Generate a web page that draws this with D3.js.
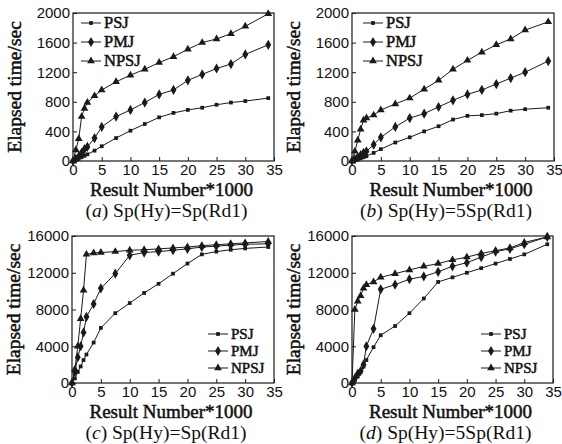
<!DOCTYPE html>
<html>
<head>
<meta charset="utf-8">
<script src="https://cdn.jsdelivr.net/npm/d3@7"></script>
<style>
    body { margin: 0; background: #fff; }
    svg { display: block; }
    .tick text { font-family: "Liberation Sans", Arial, sans-serif; font-size: 15px; fill: #111; }
    .serif { font-family: "Liberation Serif", "Times New Roman", serif; fill: #111; }
    .heavy { stroke: #111; stroke-width: 0.5px; }
</style>
</head>
<body>
<div id="chart"></div>
<script>
// result numbers (*1000) shared by every curve
const xValues = [0, 0.5, 1, 1.5, 2, 2.5, 3.75, 5, 7.5, 10, 12.5, 15, 17.5, 20, 22.5, 25, 27.5, 30, 34];
const seriesNames = ["PSJ", "PMJ", "NPSJ"];
const xTicks = [0, 5, 10, 15, 20, 25, 30, 35];
const yTicksSmall = [0, 400, 800, 1200, 1600, 2000];
const yTicksLarge = [0, 4000, 8000, 12000, 16000];
const captionLetters = ["a", "b", "c", "d"];
const captionTexts = [" Sp(Hy)=Sp(Rd1)", " Sp(Hy)=5Sp(Rd1)", " Sp(Hy)=Sp(Rd1)", " Sp(Hy)=5Sp(Rd1)"];

// (a)
const psjA = [0, 15, 30, 50, 70, 90, 140, 200, 310, 410, 500, 590, 650, 690, 720, 760, 790, 810, 850];
const pmjA = [0, 30, 60, 110, 160, 190, 310, 460, 600, 690, 790, 900, 960, 1090, 1170, 1250, 1310, 1440, 1570];
const npsjA = [0, 150, 300, 600, 710, 790, 880, 960, 1070, 1160, 1240, 1330, 1410, 1510, 1600, 1650, 1720, 1820, 1990];
// (b)
const psjB = [0, 10, 20, 35, 50, 65, 110, 160, 250, 320, 400, 470, 560, 610, 620, 640, 680, 700, 720];
const pmjB = [0, 25, 50, 80, 110, 130, 220, 320, 460, 580, 640, 730, 820, 900, 960, 1040, 1120, 1200, 1350];
const npsjB = [0, 130, 280, 430, 550, 580, 620, 690, 770, 850, 970, 1090, 1240, 1360, 1470, 1570, 1650, 1770, 1880];
// (c)
const psjC = [0, 500, 1200, 1800, 2500, 3100, 4400, 6000, 7600, 8700, 9800, 10800, 11900, 13000, 14000, 14300, 14500, 14650, 14800];
const pmjC = [0, 1200, 2800, 4000, 5500, 7200, 8600, 10300, 11900, 13900, 14200, 14300, 14450, 14600, 14800, 14900, 15000, 15100, 15150];
const npsjC = [0, 1500, 4000, 7000, 10100, 14000, 14150, 14200, 14300, 14450, 14500, 14600, 14700, 14800, 14950, 15050, 15150, 15250, 15400];
// (d)
const psjD = [0, 300, 700, 1200, 1800, 2500, 3900, 5200, 6200, 7600, 9200, 11000, 11500, 12000, 12500, 13000, 13500, 14000, 15100];
const pmjD = [0, 500, 1000, 1300, 2000, 4000, 5900, 10200, 10700, 11300, 11600, 12100, 12700, 13100, 13700, 14300, 14600, 15100, 15900];
const npsjD = [0, 8000, 8900, 9500, 10300, 10700, 11000, 11500, 11900, 12300, 12700, 13000, 13400, 13700, 14100, 14400, 14700, 15300, 15900];

const width = 562,
    height = 444;

const svg = d3.select("#chart").append("svg")
    .attr("width", width)
    .attr("height", height);

// one entry per small chart, box position on the page
const panels = [
    { left: 73, top: 13, right: 274, bottom: 161, yTicks: yTicksSmall, data: [psjA, pmjA, npsjA], legend: { x: 81, y: 23, gap: 19, size: 16.5 } },
    { left: 352, top: 13, right: 554, bottom: 161, yTicks: yTicksSmall, data: [psjB, pmjB, npsjB], legend: { x: 363, y: 23, gap: 19, size: 16.5 } },
    { left: 72, top: 236, right: 274, bottom: 383, yTicks: yTicksLarge, data: [psjC, pmjC, npsjC], legend: { x: 208, y: 334, gap: 17, size: 15 } },
    { left: 352, top: 236, right: 553, bottom: 383, yTicks: yTicksLarge, data: [psjD, pmjD, npsjD], legend: { x: 481, y: 334, gap: 17, size: 15 } }
];

const symbols = [d3.symbolSquare, d3.symbolDiamond, d3.symbolTriangle];
const symbolSizes = [14, 30, 26];
const ink = "#1a1a1a";

panels.forEach((p, n) => drawPanel(p, n));

function drawPanel(p, n) {
    const x = d3.scaleLinear()
        .domain([0, 35])
        .range([p.left, p.right]);
    const y = d3.scaleLinear()
        .domain([0, d3.max(p.yTicks)])
        .range([p.bottom, p.top]);

    const g = svg.append("g").attr("class", "panel");

    // frame
    g.append("rect")
        .attr("x", p.left)
        .attr("y", p.top)
        .attr("width", p.right - p.left)
        .attr("height", p.bottom - p.top)
        .attr("fill", "none")
        .attr("stroke", ink)
        .attr("stroke-width", 1.2);

    // axes with inward ticks, plain numbers (no thousands comma)
    const xAxis = g.append("g")
        .attr("transform", "translate(0," + p.bottom + ")")
        .call(d3.axisBottom(x).tickValues(xTicks).tickFormat(d3.format("d"))
            .tickSizeInner(-4).tickSizeOuter(0).tickPadding(3));
    const yAxis = g.append("g")
        .attr("transform", "translate(" + p.left + ",0)")
        .call(d3.axisLeft(y).tickValues(p.yTicks).tickFormat(d3.format("d"))
            .tickSizeInner(-4).tickSizeOuter(0).tickPadding(3));
    [xAxis, yAxis].forEach(a => {
        a.select(".domain").remove();
        a.selectAll(".tick line").attr("stroke", ink);
    });

    const line = d3.line()
        .x((d, i) => x(xValues[i]))
        .y(d => y(d));

    p.data.forEach((values, s) => {
        g.append("path")
            .datum(values)
            .attr("fill", "none")
            .attr("stroke", ink)
            .attr("stroke-width", 1)
            .attr("d", line);

        g.selectAll(".m" + s)
            .data(values)
            .enter().append("path")
            .attr("class", "m" + s)
            .attr("transform", (d, i) => "translate(" + x(xValues[i]) + "," + y(d) + ")")
            .attr("d", d3.symbol().type(symbols[s]).size(symbolSizes[s]))
            .attr("fill", ink);
    });

    // legend
    seriesNames.forEach((name, s) => {
        const ly = p.legend.y + s * p.legend.gap;
        g.append("line")
            .attr("x1", p.legend.x)
            .attr("x2", p.legend.x + 20)
            .attr("y1", ly)
            .attr("y2", ly)
            .attr("stroke", ink);
        g.append("path")
            .attr("transform", "translate(" + (p.legend.x + 10) + "," + ly + ")")
            .attr("d", d3.symbol().type(symbols[s]).size(symbolSizes[s]))
            .attr("fill", ink);
        g.append("text")
            .attr("class", "serif heavy")
            .attr("x", p.legend.x + 23)
            .attr("y", ly + 5)
            .attr("font-size", p.legend.size)
            .text(name);
    });

    const cx = (p.left + p.right) / 2;

    // axis titles (bold look drawn with a thin stroke)
    g.append("text")
        .attr("class", "serif heavy")
        .attr("text-anchor", "middle")
        .attr("x", cx - 2)
        .attr("y", p.bottom + 35)
        .attr("font-size", 19)
        .text("Result Number*1000");
    g.append("text")
        .attr("class", "serif heavy")
        .attr("text-anchor", "middle")
        .attr("transform", "translate(" + (p.left - 52) + "," + ((p.top + p.bottom) / 2) + ") rotate(-90)")
        .attr("font-size", 19.5)
        .text("Elapsed time/sec");

    // caption under each chart
    const cap = g.append("text")
        .attr("class", "serif")
        .attr("text-anchor", "middle")
        .attr("x", cx - 7)
        .attr("y", p.bottom + 56)
        .attr("font-size", 19.5);
    cap.append("tspan").text("(");
    cap.append("tspan").attr("font-style", "italic").text(captionLetters[n]);
    cap.append("tspan").text(")" + captionTexts[n]);
}
</script>
</body>
</html>
